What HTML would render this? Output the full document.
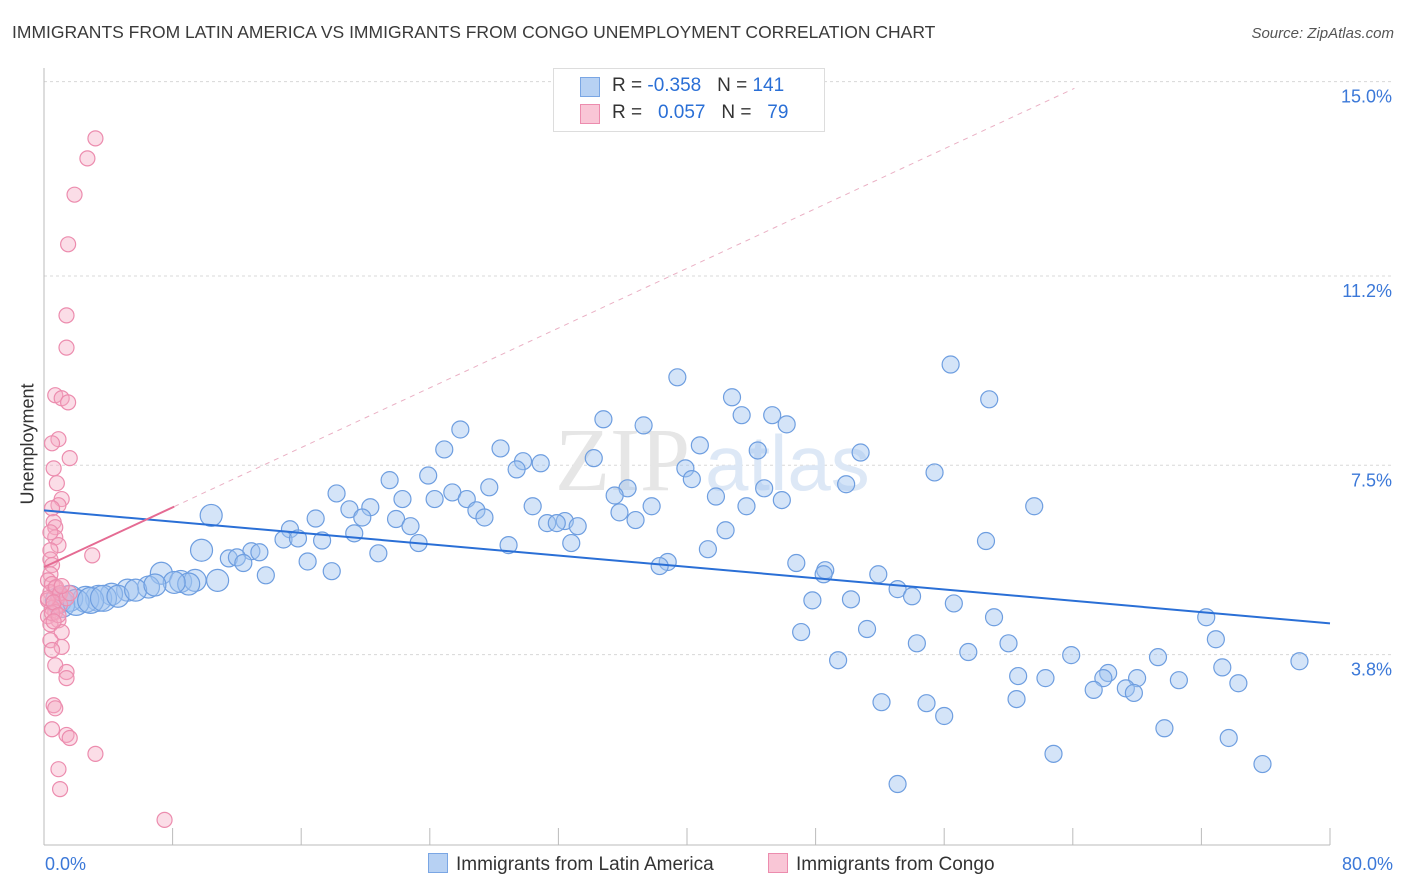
<!DOCTYPE html>
<html><head><meta charset="utf-8"><style>
body{margin:0;background:#fff;font-family:"Liberation Sans",sans-serif;}
#wrap{position:relative;width:1406px;height:892px;overflow:hidden;}
.t{position:absolute;white-space:nowrap;}
</style></head><body>
<div id="wrap">
<div class="t" style="left:12px;top:22px;font-size:17.5px;color:#3a3a3a;">IMMIGRANTS FROM LATIN AMERICA VS IMMIGRANTS FROM CONGO UNEMPLOYMENT CORRELATION CHART</div>
<div class="t" style="right:12px;top:25px;font-size:15px;color:#555;font-style:italic;">Source: ZipAtlas.com</div>
<svg id="svg" width="1406" height="892" style="position:absolute;left:0;top:0"></svg>
</div>
<script>
const yTicks=[15.0,11.2,7.5,3.8];
const yTickLabels=["15.0%","11.2%","7.5%","3.8%"];
const xTicks=[0,8,16,24,32,40,48,56,64,72,80];
const xTickLabels=["0.0%","80.0%"];
const blueX=[39.4,56.4,58.8,42.8,34.8,43.4,45.3,46.2,37.3,25.9,28.4,24.9,40.8,44.4,50.8,29.8,30.9,34.2,29.4,39.9,23.9,21.5,55.4,27.7,25.4,26.3,24.3,22.3,18.2,36.3,40.3,44.8,35.5,41.8,45.9,43.7,49.9,30.4,37.8,61.6,19.0,20.3,26.9,27.4,19.8,10.4,16.9,35.8,36.8,31.3,32.4,31.9,33.2,21.9,22.8,15.3,14.9,19.3,15.8,17.3,42.4,32.8,23.3,28.9,58.6,41.3,20.8,9.8,11.5,12.9,13.4,12.0,12.4,16.4,17.9,13.8,38.8,38.3,46.8,48.6,48.5,51.9,7.3,8.5,9.4,10.8,9.0,8.1,6.5,5.2,4.2,3.4,2.6,1.6,0.9,1.1,2.0,2.9,3.7,4.6,5.7,6.9,53.1,54.0,47.8,50.2,56.6,59.1,72.3,47.1,51.2,72.9,54.3,60.0,57.5,49.4,63.9,69.3,78.1,73.3,60.6,62.3,66.2,68.0,65.9,70.6,74.3,65.3,67.3,67.8,60.5,52.1,54.9,56.0,69.7,73.7,62.8,75.8,53.1];
const blueY=[9.22,9.47,8.79,8.83,8.40,8.48,8.48,8.30,8.28,8.20,7.83,7.81,7.89,7.79,7.75,7.58,7.54,7.64,7.42,7.44,7.30,7.21,7.36,7.07,6.97,6.84,6.84,6.84,6.95,7.05,7.23,7.05,6.91,6.89,6.82,6.70,7.13,6.70,6.70,6.70,6.64,6.68,6.62,6.48,6.48,6.52,6.46,6.58,6.43,6.37,6.41,6.37,6.31,6.45,6.31,6.25,6.05,6.17,6.07,6.03,6.23,5.98,5.98,5.94,6.02,5.86,5.78,5.84,5.68,5.82,5.80,5.70,5.59,5.62,5.43,5.35,5.61,5.53,5.59,5.45,5.37,5.37,5.39,5.23,5.25,5.25,5.18,5.21,5.12,5.06,4.98,4.90,4.88,4.90,4.86,4.78,4.82,4.86,4.90,4.94,5.06,5.16,5.08,4.94,4.86,4.88,4.80,4.53,4.53,4.24,4.30,4.10,4.02,4.02,3.85,3.69,3.79,3.75,3.67,3.55,3.38,3.34,3.44,3.34,3.34,3.30,3.24,3.11,3.14,3.05,2.93,2.87,2.85,2.60,2.36,2.17,1.86,1.66,1.27];
const pinkX=[3.2,2.7,1.9,1.5,1.4,1.4,0.7,1.1,1.5,0.9,0.5,1.6,0.6,0.8,1.1,0.9,0.5,0.6,0.7,0.7,0.9,0.4,0.4,3.0,0.5,0.4,0.25,0.5,0.7,0.4,0.9,0.25,1.0,0.5,0.7,0.25,0.9,0.4,1.1,0.4,1.1,0.5,0.7,1.4,1.4,0.6,0.7,0.5,1.4,1.6,3.2,0.9,1.0,7.5,0.75,0.25,0.5,1.0,0.6,0.9,1.4,1.6,0.4,0.6,1.1];
const pinkY=[13.89,13.50,12.79,11.82,10.43,9.80,8.87,8.81,8.73,8.01,7.93,7.64,7.44,7.15,6.84,6.72,6.66,6.39,6.29,6.09,5.94,5.84,5.66,5.74,5.55,5.37,5.25,5.18,5.10,5.02,4.94,4.86,4.78,4.71,4.63,4.55,4.47,4.39,4.24,4.08,3.95,3.89,3.59,3.46,3.34,2.81,2.75,2.34,2.23,2.17,1.86,1.56,1.17,0.57,5.12,4.90,4.61,5.00,4.82,4.57,4.90,5.00,6.19,4.45,5.14];
const blueTrend=[6.62,4.41];
const pinkTrend=[5.51,0.146];
const pinkSolidEnd=8.1, pinkDashEnd=64.1;

const NS="http://www.w3.org/2000/svg";
const svg=document.getElementById('svg');
const X0=44,X1=1330,Y0=849,PY=51.16;
const sx=v=>X0+(X1-X0)*v/80;
const sy=v=>Y0-v*PY;
function mk(tag,attrs,parent){const e=document.createElementNS(NS,tag);for(const k in attrs)e.setAttribute(k,attrs[k]);(parent||svg).appendChild(e);return e;}
// grid
yTicks.forEach((v,i)=>{
 const g=mk('line',{x1:X0,x2:1392,y1:sy(v),y2:sy(v),stroke:'#d8d8d8','stroke-dasharray':'3,3'});
 
 
 const t=mk('text',{x:1392,y:sy(v)+21,'text-anchor':'end','font-size':'18',fill:'#3b78d8','font-family':'Liberation Sans'});
 t.textContent=yTickLabels[i];
 
 
});
const ax=mk('line',{x1:X0,x2:X0,y1:68,y2:845,stroke:'#bbb'});


const bx=mk('line',{x1:X0,x2:X1,y1:845,y2:845,stroke:'#bbb'});


xTicks.forEach(v=>{
 const l=mk('line',{x1:sx(v),x2:sx(v),y1:828,y2:845,stroke:'#bbb'});
 
 
});
[[X0+1,'start',0],[1393,'end',1]].forEach(a=>{
 const t=mk('text',{x:a[0],y:870,'text-anchor':a[1],'font-size':'18',fill:'#3b78d8','font-family':'Liberation Sans'});
 t.textContent=xTickLabels[a[2]];
 
 
});
// watermark
const wm=mk('text',{x:555,y:490,'font-size':'90','font-family':'Liberation Serif',fill:'#e6e6e6'});
wm.textContent='ZIP';


const wm2=mk('text',{x:705,y:490,'font-size':'78','font-family':'Liberation Sans',fill:'#dde8f6'});
wm2.textContent='atlas';


// points
blueX.forEach((v,i)=>{
 const r=v<4?13:(v<11?11:8.5);
 const c=mk('circle',{cx:sx(v),cy:sy(blueY[i]),r:r,fill:'rgba(160,196,240,0.45)',stroke:'#6e9ee0','stroke-width':'1.2'});
 
 
});
pinkX.forEach((v,i)=>{
 const c=mk('circle',{cx:sx(v),cy:sy(pinkY[i]),r:7.5,fill:'rgba(245,170,195,0.4)',stroke:'#ec8cae','stroke-width':'1.2'});
 
 
});
// trends
const bt=mk('line',{x1:sx(0),y1:sy(blueTrend[0]),x2:sx(80),y2:sy(blueTrend[1]),stroke:'#2a6fd6','stroke-width':'2'});


const pd=mk('line',{x1:sx(pinkSolidEnd),y1:sy(pinkTrend[0]+pinkTrend[1]*pinkSolidEnd),x2:sx(pinkDashEnd),y2:sy(pinkTrend[0]+pinkTrend[1]*pinkDashEnd),stroke:'#eab0c4','stroke-width':'1','stroke-dasharray':'5,5'});


const pt=mk('line',{x1:sx(0),y1:sy(pinkTrend[0]),x2:sx(pinkSolidEnd),y2:sy(pinkTrend[0]+pinkTrend[1]*pinkSolidEnd),stroke:'#e56b93','stroke-width':'2'});


</script>
<div class="t" style="left:-22px;top:444px;font-size:18px;color:#333;transform:rotate(-90deg);transform-origin:center;width:100px;text-align:center;">Unemployment</div>
<div style="position:absolute;left:553px;top:68px;width:270px;height:62px;border:1px solid #ddd;background:#fff;font-size:19px;color:#333;">
 <div style="position:absolute;left:26px;top:8px;width:18px;height:18px;background:#b7d1f3;border:1px solid #7aa6e4;"></div>
 <div class="t" style="left:58px;top:6px;">R = <span style="color:#2a6fd6">-0.358</span>&nbsp;&nbsp;&nbsp;N = <span style="color:#2a6fd6">141</span></div>
 <div style="position:absolute;left:26px;top:35px;width:18px;height:18px;background:#f9c6d6;border:1px solid #ec8cae;"></div>
 <div class="t" style="left:58px;top:33px;">R = &nbsp;&nbsp;<span style="color:#2a6fd6">0.057</span>&nbsp;&nbsp;&nbsp;N = &nbsp;&nbsp;<span style="color:#2a6fd6">79</span></div>
</div>
<div style="position:absolute;left:428px;top:853px;font-size:19px;color:#333;">
 <span style="display:inline-block;width:18px;height:18px;background:#b7d1f3;border:1px solid #7aa6e4;vertical-align:-3px;margin-right:8px;"></span>Immigrants from Latin America</div>
<div style="position:absolute;left:768px;top:853px;font-size:19px;color:#333;">
 <span style="display:inline-block;width:18px;height:18px;background:#f9c6d6;border:1px solid #ec8cae;vertical-align:-3px;margin-right:8px;"></span>Immigrants from Congo</div>
</body></html>
